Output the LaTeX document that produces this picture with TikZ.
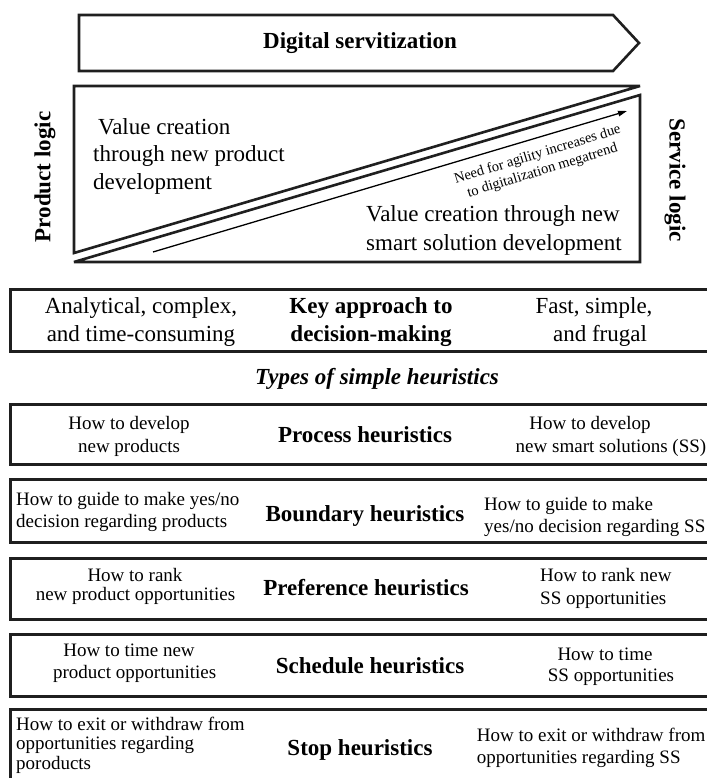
\documentclass[tikz,border=0pt]{standalone}
\usepackage{fontspec}
\setmainfont{Liberation Serif}
\usetikzlibrary{arrows.meta}
\begin{document}
\begin{tikzpicture}[x=1pt,y=-1pt,
  frame/.style={draw=black!88, line width=2.6pt, miter limit=4},
  bigtxt/.style={font=\fontsize{23}{28}\selectfont, inner sep=0pt, anchor=base},
  smalltxt/.style={font=\fontsize{19}{23}\selectfont, inner sep=0pt, anchor=base},
  smallleft/.style={smalltxt, anchor=base west},
  headtxt/.style={font=\bfseries\fontsize{23}{28}\selectfont, inner sep=0pt, anchor=base},
  rowbox/.style={frame, anchor=north west, minimum width=705pt, minimum height=#1, inner sep=0pt},
]
\useasboundingbox (0,0) rectangle (706,778);

% banner arrow
\draw[frame] (79,15) -- (613,15) -- (639,43) -- (613,71) -- (79,71) -- cycle;
\node[headtxt, anchor=center] (ds) at (360,43) {Digital servitization};

% split box: product side and service side
\draw[frame] (74,86) -- (640,86) -- (74,253) -- cycle;
\draw[frame] (74,262) -- (640,95) -- (640,262) -- cycle;

\coordinate (agS) at (153,252);
\coordinate (agE) at (627,111);
\draw[line width=1.3pt, -{Triangle[length=9pt,width=5.5pt]}] (agS) -- (agE);
\node[font=\fontsize{14.5}{17}\selectfont, rotate=17, align=center, inner sep=0pt] (agility) at (540,163)
  {Need for agility increases due\\to digitalization megatrend};

\node[font=\fontsize{23}{27.5}\selectfont, inner sep=0pt, anchor=west, align=left] (vprod) at (93,156)
  {\hspace*{5pt}Value creation\\through new product\\development};
\node[font=\fontsize{23}{29}\selectfont, inner sep=0pt, anchor=west, align=left] (vsmart) at (366,230.5)
  {Value creation through new\\smart solution development};

\node[headtxt, anchor=center, rotate=90] (plog) at (45,177) {Product logic};
\node[headtxt, anchor=center, rotate=-90] (slog) at (675,180) {Service logic};

% key approach row
\node[rowbox=62pt] (keybox) at (9,288) {};
\node[bigtxt] (kl1) at (141,313) {Analytical, complex,};
\node[bigtxt] (kl2) at (141,341) {and time-consuming};
\node[headtxt] (kc1) at (371,313) {Key approach to};
\node[headtxt] (kc2) at (371,341) {decision-making};
\node[bigtxt] (kr1) at (594,313) {Fast, simple,};
\node[bigtxt] (kr2) at (600,341) {and frugal};

\node[font=\bfseries\itshape\fontsize{23}{28}\selectfont, inner sep=0pt, anchor=base] (types) at (377,384) {Types of simple heuristics};

% process heuristics
\node[rowbox=60pt] (pbox) at (9,403) {};
\node[smalltxt] (pl1) at (129,429) {How to develop};
\node[smalltxt] (pl2) at (129,452) {new products};
\node[headtxt] (pc) at (365,442) {Process heuristics};
\node[smalltxt] (pr1) at (590,429) {How to develop};
\node[smalltxt] (pr2) at (611,452) {new smart solutions (SS)};

% boundary heuristics
\node[rowbox=63pt] (bbox) at (9,478) {};
\node[smallleft] (bl1) at (16,505) {How to guide to make yes/no};
\node[smallleft] (bl2) at (16,527) {decision regarding products};
\node[headtxt] (bc) at (365,521) {Boundary heuristics};
\node[smallleft] (br1) at (484,510) {How to guide to make};
\node[smallleft] (br2) at (484,532) {yes/no decision regarding SS};

% preference heuristics
\node[rowbox=61pt] (fbox) at (9,557) {};
\node[smalltxt] (fl1) at (135,581.7) {How to rank};
\node[smalltxt] (fl2) at (135.5,600) {new product opportunities};
\node[headtxt] (fc) at (366,595.7) {Preference heuristics};
\node[smallleft] (fr1) at (540,581.7) {How to rank new};
\node[smallleft] (fr2) at (540,604) {SS opportunities};

% schedule heuristics
\node[rowbox=62pt] (sbox) at (9,633) {};
\node[smalltxt] (sl1) at (129,656.7) {How to time new};
\node[smalltxt] (sl2) at (134.7,678.3) {product opportunities};
\node[headtxt] (sc) at (370,673.3) {Schedule heuristics};
\node[smalltxt] (sr1) at (605,660) {How to time};
\node[smalltxt] (sr2) at (611,681.7) {SS opportunities};

% stop heuristics
\node[rowbox=90pt] (tbox) at (9,708) {};
\node[smallleft] (tl1) at (16,730) {How to exit or withdraw from};
\node[smallleft] (tl2) at (16,749.5) {opportunities regarding};
\node[smallleft] (tl3) at (16,769) {poroducts};
\node[headtxt] (tc) at (360,755) {Stop heuristics};
\node[smallleft] (tr1) at (476.7,741.7) {How to exit or withdraw from};
\node[smallleft] (tr2) at (476.7,763.3) {opportunities regarding SS};
\end{tikzpicture}
\end{document}
